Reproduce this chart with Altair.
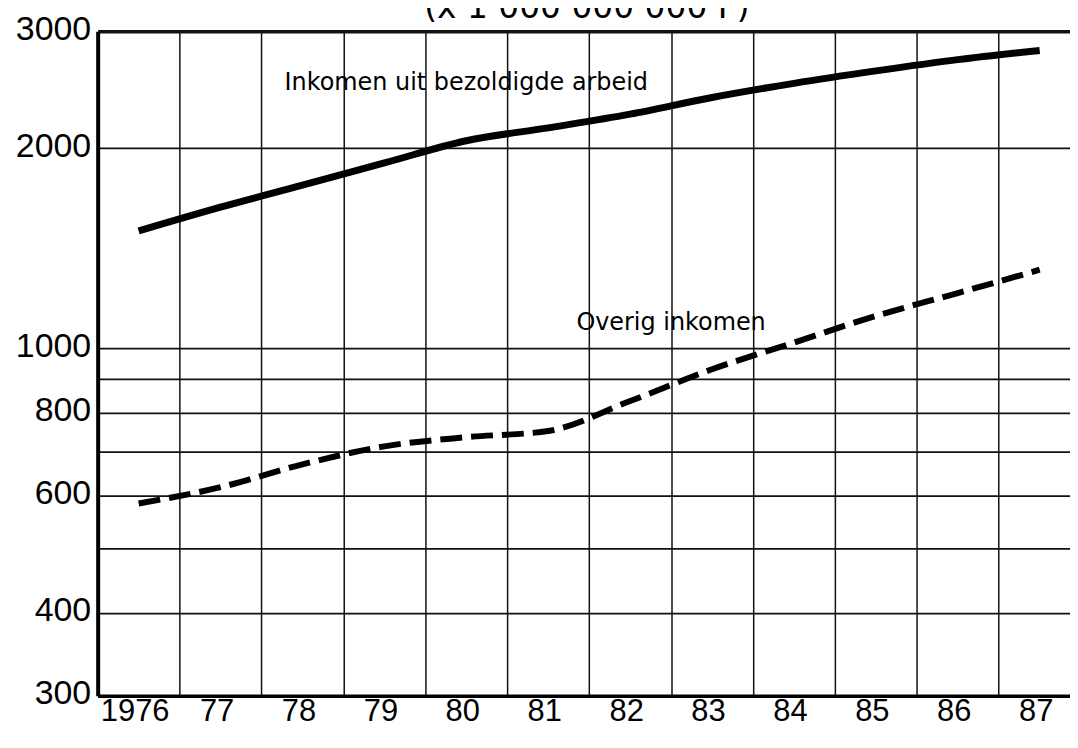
import altair as alt
import pandas as pd

# ---- data ----
years = [1976, 1977, 1978, 1979, 1980, 1981, 1982, 1983, 1984, 1985, 1986, 1987]
wages = [1502, 1631, 1760, 1901, 2053, 2147, 2251, 2385, 2505, 2615, 2719, 2807]
other = [584, 618, 669, 712, 735, 751, 833, 930, 1020, 1119, 1211, 1313]
series_names = ["Inkomen uit bezoldigde arbeid", "Overig inkomen"]

# annotation anchors (data coordinates)
label_years = [1980.0, 1982.5]
label_values = [2450, 1065]

unit_title = "(x 1 000 000 000 F)"

y_grid = [300, 400, 500, 600, 700, 800, 900, 1000, 2000, 3000]
y_unlabelled = [500, 700, 900]
x_grid = [y + 0.5 for y in years[:-1]]
x_values = sorted(years + x_grid)

# ---- tables ----
wage_df = pd.DataFrame({"year": years, "value": wages})
other_df = pd.DataFrame({"year": years, "value": other})
label_df = pd.DataFrame({"year": label_years, "value": label_values, "text": series_names})
title_df = pd.DataFrame({"t": [unit_title]})

unl = ",".join(str(v) for v in y_unlabelled)

x_axis = alt.Axis(
    values=x_values,
    title=None,
    labelExpr="datum.value % 1 != 0 ? '' : (datum.value == 1976 ? '1976' : slice(toString(datum.value), 2))",
    labelFont="Liberation Sans",
    labelFontSize=31,
    labelColor="black",
    labelPadding=1,
    labelOffset=-4,
    labelOverlap=False,
    labelFlush=False,
    ticks=False,
    domain=True,
    domainColor="black",
    domainWidth=3.5,
    grid=True,
    gridColor="#111111",
    gridWidth=1.5,
    gridOpacity=alt.condition("datum.value % 1 != 0", alt.value(1), alt.value(0)),
)

y_axis = alt.Axis(
    values=y_grid,
    title=None,
    labelExpr="indexof([" + unl + "], datum.value) >= 0 ? '' : toString(datum.value)",
    labelFont="Liberation Sans",
    labelFontSize=34,
    labelColor="black",
    labelPadding=7,
    labelOffset=-2,
    labelOverlap=False,
    labelFlush=False,
    ticks=False,
    domain=True,
    domainColor="black",
    domainWidth=4,
    grid=True,
    gridColor="#111111",
    gridWidth=alt.condition("datum.value == 3000", alt.value(3.5), alt.value(1.8)),
)

x_enc = alt.X("year:Q", scale=alt.Scale(domain=[1975.5, 1987.37], nice=False, zero=False), axis=x_axis)
y_enc = alt.Y("value:Q", scale=alt.Scale(type="log", domain=[300, 3000], nice=False), axis=y_axis)

wage_line = alt.Chart(wage_df).mark_line(
    color="black", strokeWidth=7, interpolate="monotone", strokeCap="butt"
).encode(x=x_enc, y=y_enc)

other_line = alt.Chart(other_df).mark_line(
    color="black", strokeWidth=6, strokeDash=[22, 9], interpolate="monotone", strokeCap="butt"
).encode(x=x_enc, y=y_enc)

labels = alt.Chart(label_df).mark_text(
    font="DejaVu Sans", fontSize=24, align="center", baseline="alphabetic", color="black"
).encode(x=x_enc, y=y_enc, text="text:N")

unit = alt.Chart(title_df).mark_text(
    font="DejaVu Sans", fontSize=33, align="center", baseline="alphabetic", color="black"
).encode(x=alt.value(491), y=alt.value(-13), text="t:N")

chart = alt.layer(wage_line, other_line, labels, unit).properties(
    width=976,
    height=667,
    padding={"left": 90, "top": 22, "right": 0, "bottom": 37},
    autosize=alt.AutoSizeParams(type="none"),
    background="white",
).configure_view(strokeWidth=0)

chart.save("out.html", embed_options={"renderer": "svg", "actions": False})
